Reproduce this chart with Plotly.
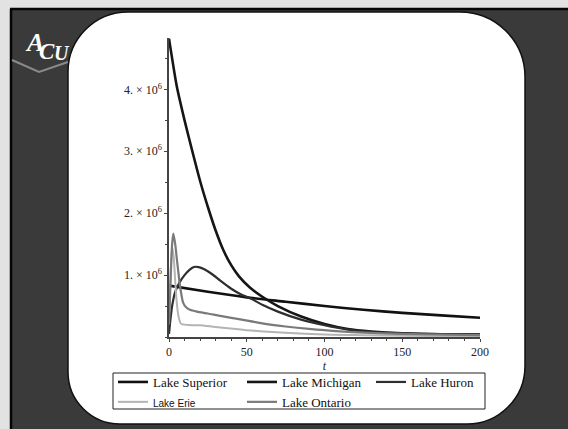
import plotly.graph_objects as go

# ---------------- data ----------------
superior_t = [0, 25, 50, 75, 100, 125, 150, 175, 200]
superior_v = [0.83e6, 0.73e6, 0.64e6, 0.57e6, 0.50e6, 0.44e6, 0.39e6, 0.35e6, 0.31e6]

michigan_t = [0, 5, 10, 15, 20, 25, 30, 35, 40, 45, 52, 60, 70, 85, 100, 115, 130, 150, 175, 200]
michigan_v = [4.82e6, 4.05e6, 3.5e6, 3.0e6, 2.52e6, 2.1e6, 1.72e6, 1.4e6, 1.16e6, 0.98e6,
              0.8e6, 0.65e6, 0.5e6, 0.33e6, 0.21e6, 0.13e6, 0.09e6, 0.06e6, 0.045e6, 0.04e6]

huron_t = [0, 1, 2, 4, 7, 10, 13, 16, 19, 23, 28, 33, 40, 47, 52, 60, 70, 85, 100, 115, 130, 150, 175, 200]
huron_v = [0.05e6, 0.3e6, 0.5e6, 0.73e6, 0.89e6, 1.0e6, 1.08e6, 1.13e6, 1.13e6, 1.09e6, 1.01e6,
           0.91e6, 0.78e6, 0.68e6, 0.63e6, 0.52e6, 0.41e6, 0.28e6, 0.19e6, 0.12e6, 0.08e6,
           0.06e6, 0.045e6, 0.04e6]

erie_t = [0, 1, 2, 3, 4, 5, 6, 7, 8, 10, 15, 20, 30, 50, 75, 100, 125, 150, 200]
erie_v = [0.3e6, 1.0e6, 1.45e6, 1.3e6, 0.9e6, 0.55e6, 0.35e6, 0.25e6, 0.21e6, 0.2e6, 0.19e6,
          0.19e6, 0.16e6, 0.11e6, 0.07e6, 0.04e6, 0.03e6, 0.02e6, 0.01e6]

ontario_t = [0, 1, 2, 2.8, 4, 5, 6, 7, 9, 11, 13.5, 18, 25, 33, 45, 60, 75, 90, 100, 110, 125, 150, 175, 200]
ontario_v = [0.2e6, 0.9e6, 1.5e6, 1.67e6, 1.5e6, 1.27e6, 1.05e6, 0.84e6, 0.56e6, 0.48e6, 0.44e6,
             0.41e6, 0.38e6, 0.34e6, 0.29e6, 0.22e6, 0.17e6, 0.13e6, 0.11e6, 0.09e6, 0.07e6,
             0.05e6, 0.04e6, 0.03e6]

y_tickvals = [1e6, 2e6, 3e6, 4e6]
y_ticktext = ["1. × 10<sup>6</sup>", "2. × 10<sup>6</sup>", "3. × 10<sup>6</sup>", "4. × 10<sup>6</sup>"]
x_tickvals = [0, 50, 100, 150, 200]
x_ticktext = ["0", "50", "100", "150", "200"]

# ---------------- layout geometry (pixels) ----------------
W, H = 568, 429
PL, PR, PT, PB = 169, 480, 38, 337  # plot area


def px(x):
    return (x - PL) / (PR - PL)


def py(y):
    return (PB - y) / (PB - PT)


def rounded_path(L, T, R, B, tl, tr, br, bl):
    k = 0.5523
    pts = []
    pts.append(f"M {px(L + tl)} {py(T)}")
    pts.append(f"L {px(R - tr)} {py(T)}")
    pts.append(f"C {px(R - tr + k * tr)} {py(T)} {px(R)} {py(T + tr - k * tr)} {px(R)} {py(T + tr)}")
    pts.append(f"L {px(R)} {py(B - br)}")
    pts.append(f"C {px(R)} {py(B - br + k * br)} {px(R - br + k * br)} {py(B)} {px(R - br)} {py(B)}")
    pts.append(f"L {px(L + bl)} {py(B)}")
    pts.append(f"C {px(L + bl - k * bl)} {py(B)} {px(L)} {py(B - bl + k * bl)} {px(L)} {py(B - bl)}")
    pts.append(f"L {px(L)} {py(T + tl)}")
    pts.append(f"C {px(L)} {py(T + tl - k * tl)} {px(L + tl - k * tl)} {py(T)} {px(L + tl)} {py(T)}")
    pts.append("Z")
    return " ".join(pts)


fig = go.Figure()

series = [
    ("Lake Superior", superior_t, superior_v, "#111111", 2.6),
    ("Lake Michigan", michigan_t, michigan_v, "#161616", 2.6),
    ("Lake Huron", huron_t, huron_v, "#2e2e2e", 2.2),
    ('<span style="font-family:Liberation Sans, Arial, sans-serif;font-size:10px">Lake Erie</span>',
     erie_t, erie_v, "#b4b4b4", 2.0),
    ("Lake Ontario", ontario_t, ontario_v, "#7a7a7a", 2.2),
]
for name, t, v, col, w in series:
    fig.add_trace(go.Scatter(
        x=t, y=v, mode="lines", name=name,
        line=dict(color=col, width=w, shape="spline", smoothing=0.6),
        hoverinfo="skip",
    ))

shapes = []
# light outer strips
shapes.append(dict(type="rect", xref="paper", yref="paper", x0=px(0), x1=px(W), y0=py(0), y1=py(8),
                   fillcolor="#e2e2e2", line=dict(width=0), layer="below"))
shapes.append(dict(type="rect", xref="paper", yref="paper", x0=px(0), x1=px(10), y0=py(0), y1=py(H),
                   fillcolor="#e2e2e2", line=dict(width=0), layer="below"))
shapes.append(dict(type="line", xref="paper", yref="paper", x0=px(10), x1=px(W), y0=py(9), y1=py(9),
                   line=dict(color="#050505", width=2.5), layer="below"))
shapes.append(dict(type="line", xref="paper", yref="paper", x0=px(11), x1=px(11), y0=py(9), y1=py(H),
                   line=dict(color="#050505", width=2.5), layer="below"))
# logo tab chevron
shapes.append(dict(type="path", xref="paper", yref="paper",
                   path=f"M {px(12)} {py(60)} L {px(39)} {py(72)} L {px(68)} {py(62)}",
                   line=dict(color="#8a8a8a", width=2), layer="below"))
# white rounded panel
shapes.append(dict(type="path", xref="paper", yref="paper",
                   path=rounded_path(68, 12, 525, 424, 60, 65, 58, 52),
                   fillcolor="white", line=dict(color="#111111", width=1.5), layer="below"))
# legend box
shapes.append(dict(type="rect", xref="paper", yref="paper", x0=px(113), x1=px(485), y0=py(373), y1=py(409),
                   fillcolor="white", line=dict(color="#222", width=1), layer="below"))
fig.update_layout(shapes=shapes)

# ACU logo letters
for ch, x, y, s in [("A", 23, 26, 26), ("C", 37, 37, 23), ("U", 52, 40, 20)]:
    fig.add_annotation(xref="paper", yref="paper", x=px(x), y=py(y), text=f"<b><i>{ch}</i></b>",
                       showarrow=False, font=dict(family="Liberation Serif", size=s, color="white"))

serif = "Liberation Serif, Times New Roman, serif"

fig.update_layout(
    width=W, height=H,
    margin=dict(l=PL, r=W - PR, t=PT, b=H - PB, autoexpand=False),
    paper_bgcolor="#3a3a3a",
    plot_bgcolor="rgba(0,0,0,0)",
    font=dict(family=serif, size=12, color="#222"),
    showlegend=True,
    legend=dict(
        orientation="h", x=px(113), xanchor="left", y=py(367), yanchor="top",
        bgcolor="rgba(0,0,0,0)", borderwidth=0,
        font=dict(family=serif, size=13, color="#111"),
        entrywidth=84, entrywidthmode="pixels", itemwidth=30,
        tracegroupgap=0,
    ),
)
fig.update_xaxes(
    range=[0, 200], tickvals=x_tickvals, ticktext=x_ticktext,
    showline=True, linecolor="#444", linewidth=1.5, showgrid=False, zeroline=False,
    ticks="outside", ticklen=3, tickcolor="#444",
    minor=dict(ticks="outside", ticklen=2, dtick=10, tick0=0, tickcolor="#444"),
    tickfont=dict(family=serif, size=12, color="#222"),
    title=dict(text="<i>t</i>", font=dict(family=serif, size=12, color="#222"), standoff=2),
)
fig.update_yaxes(
    range=[0, 4.83e6], tickvals=y_tickvals, ticktext=y_ticktext,
    showline=True, linecolor="#444", linewidth=1.5, showgrid=False, zeroline=False,
    ticks="outside", ticklen=3, tickcolor="#444",
    minor=dict(ticks="outside", ticklen=2, dtick=5e5, tick0=0, tickcolor="#444"),
    tickfont=dict(family=serif, size=12, color="#222"),
)

fig.write_html(
    "out.html",
    config={"displayModeBar": False},
    post_script="document.body.style.margin='0';document.body.style.overflow='hidden';",
)
